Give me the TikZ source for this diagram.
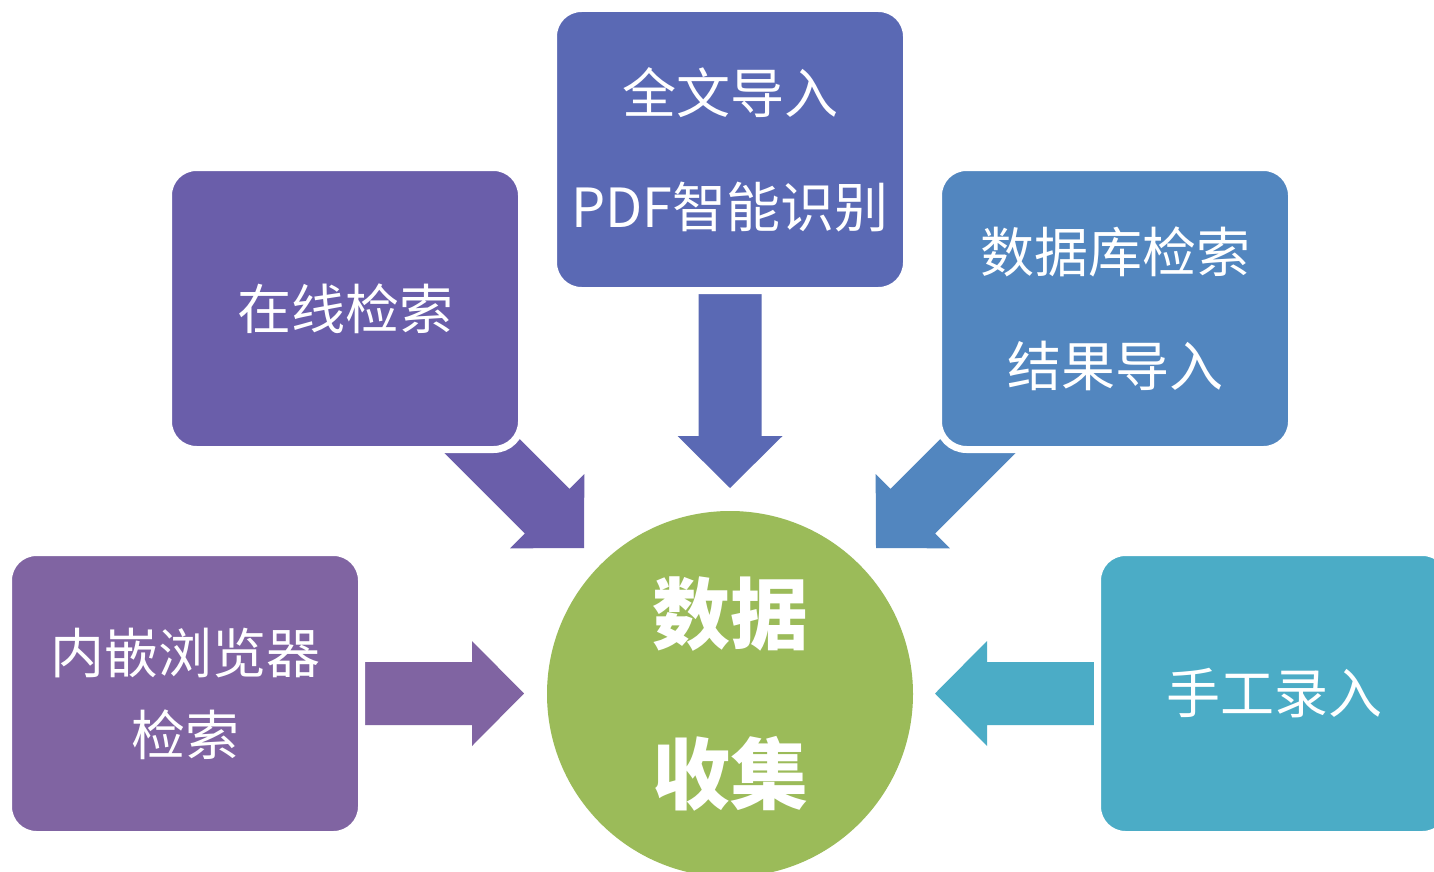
\documentclass[tikz,border=0pt]{standalone}
\usepackage{fontspec}
\setmainfont{Noto Sans CJK SC}
\definecolor{cA}{HTML}{6A5EAA}
\definecolor{cB}{HTML}{5A69B4}
\definecolor{cC}{HTML}{5286BF}
\definecolor{cD}{HTML}{8064A2}
\definecolor{cE}{HTML}{4BACC6}
\definecolor{cG}{HTML}{9BBB59}
\tikzset{
  pics/barrow/.style={code={
    \fill (-#1,-31.5) -- (-52,-31.5) -- (-52,-52.5) -- (0,0) -- (-52,52.5) -- (-52,31.5) -- (-#1,31.5) -- cycle;
  }},
  box/.style={rectangle, rounded corners=28pt, draw=white, line width=7pt,
    minimum width=353pt, minimum height=282pt, inner sep=0pt, text=white,
    align=center, font=\fontsize{54}{114}\selectfont},
}
\begin{document}
\begin{tikzpicture}[x=1pt,y=-1pt]
\clip (0,0) rectangle (1434,872);
\fill[white] (0,0) rectangle (1434,872);
% block arrows
\pic[fill=cA, rotate=-45] at (584,548) {barrow=190};
\pic[fill=cB, rotate=-90] at (730,488) {barrow=230};
\pic[fill=cC, rotate=-135] at (876,548) {barrow=190};
\pic[fill=cD] at (524,693.5) {barrow=165};
\pic[fill=cE, rotate=180] at (935,693.5) {barrow=167};
% boxes
\node[box, fill=cA] (online) at (345,308.5) {在线检索};
\node[box, fill=cB] (pdf) at (730,149.5) {全文导入\\PDF智能识别};
\node[box, fill=cC] (db) at (1115,308.5) {数据库检索\\结果导入};
\node[box, fill=cD, font=\fontsize{54}{82}\selectfont] (browser) at (185,693.5) {内嵌浏览器\\检索};
\node[box, fill=cE] (manual) at (1274,693.5) {手工录入};
% hub
\node[circle, fill=cG, minimum size=366pt, inner sep=0pt, text=white, align=center,
  font=\bfseries\fontsize{78}{160}\selectfont] (hub) at (730,694) {数据\\收集};
\end{tikzpicture}
\end{document}
